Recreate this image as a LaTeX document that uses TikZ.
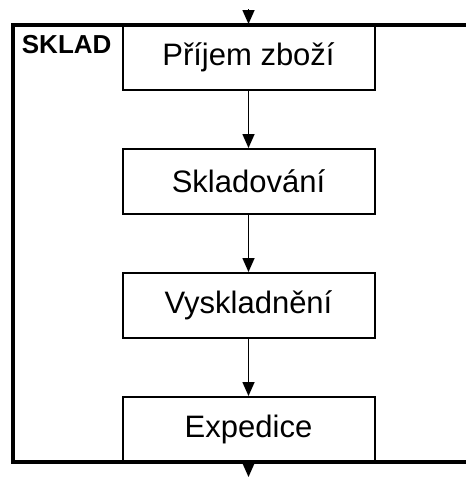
\documentclass[tikz,border=0pt]{standalone}
\usepackage{fontspec}
\setmainfont{Liberation Sans}
\usetikzlibrary{arrows.meta, positioning}

\begin{document}
\begin{tikzpicture}[x=0.5pt, y=-0.5pt,
    krok/.style={draw, line width=1pt, minimum width=126pt, minimum height=32.5pt, inner sep=0pt, font=\fontsize{15.5}{18}\selectfont},
    tok/.style={-{Triangle[length=7pt, width=6pt]}, line width=0.8pt}]
    \useasboundingbox (0,0) rectangle (466,477);
    % ramec skladu
    \draw[line width=2pt] (472,25) -- (12.5,25) -- (12.5,462) -- (472,462);
    \node[anchor=north west, inner sep=0pt, font=\bfseries\fontsize{13}{15}\selectfont] (nazev) at (21.5,35) {SKLAD};
    % kroky
    \node[krok] at (248.5,57.5) (prijem) {Příjem zboží};
    \node[krok, below=28.5pt of prijem] (skladovani) {Skladování};
    \node[krok, below=28.5pt of skladovani] (vyskladneni) {Vyskladnění};
    \node[krok, below=28.5pt of vyskladneni] (expedice) {Expedice};
    \coordinate (vstup) at (248.5,9);
    \coordinate (vystup) at (248.5,477);
    \draw[tok] (vstup) -- (prijem.north);
    \draw[tok] (prijem) -- (skladovani);
    \draw[tok] (skladovani) -- (vyskladneni);
    \draw[tok] (vyskladneni) -- (expedice);
    \draw[tok] (expedice) -- (vystup);
\end{tikzpicture}
\end{document}
